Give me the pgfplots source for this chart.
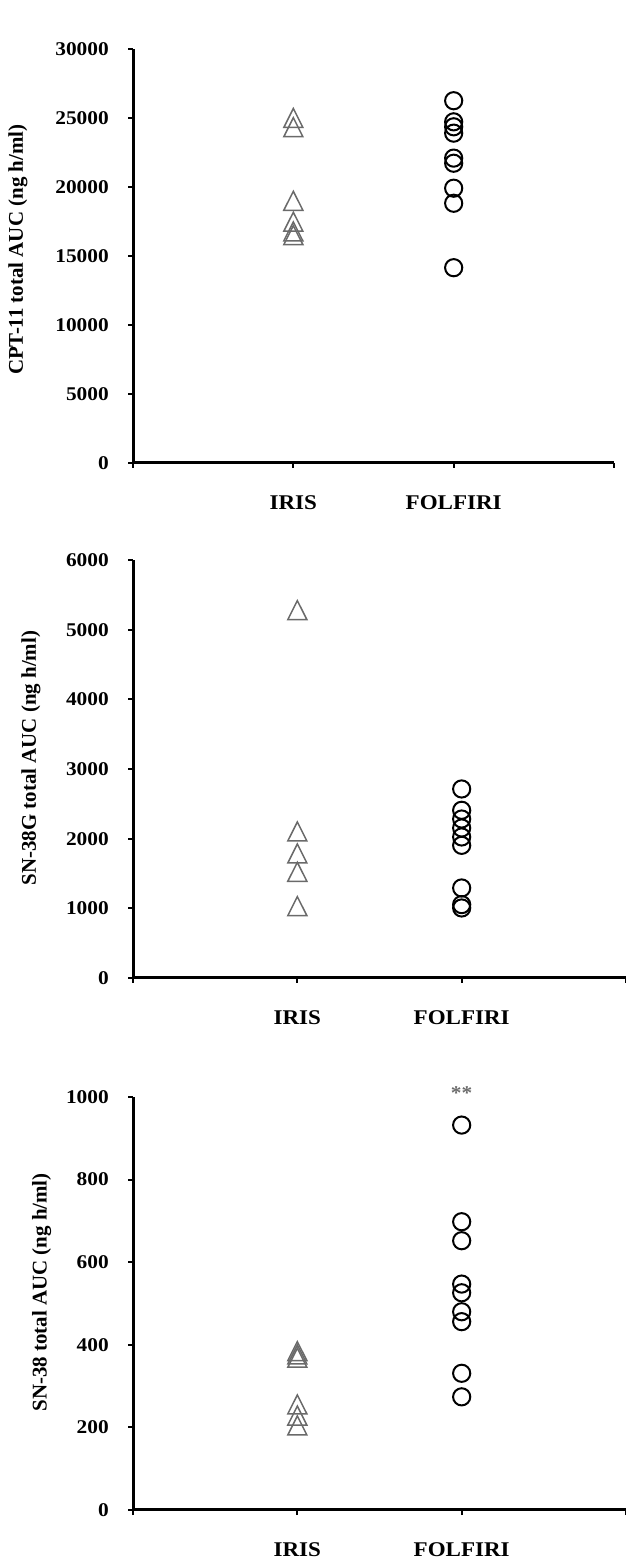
\documentclass[border=0pt]{standalone}
\usepackage{pgfplots}
\pgfplotsset{compat=1.18}
\usepackage{fontspec}
\setmainfont{Liberation Serif}[FakeStretch=1.1]
\newfontfamily\labelfont{Liberation Serif}
\definecolor{trigray}{HTML}{6A6A6A}
\pgfplotsset{
  panel/.style={
    scale only axis,
    axis lines*=left,
    axis line style={line width=3bp},
    xmin=0, xmax=3, ymin=0,
    xtick={0,1,2,3}, xticklabels={,IRIS,FOLFIRI,},
    tick align=outside,
    major tick length=5bp,
    tick style={line width=2bp, black},
    scaled y ticks=false,
    /pgf/number format/assume math mode=true,
    /pgf/number format/1000 sep={},
    yticklabel style={anchor=east, inner sep=0pt, xshift=-19bp,
      font=\fontsize{19.5}{20}\selectfont\bfseries},
    xticklabel style={anchor=center, inner sep=0pt, yshift=-35bp,
      font=\fontsize{21}{21}\selectfont\bfseries},
    ylabel style={anchor=center, font=\labelfont\fontsize{21}{21}\selectfont\bfseries},
    clip=false,
  },
  tri/.style={only marks, mark=triangle, mark size=11bp,
    mark options={draw=trigray, line width=1.5bp, yscale=1.15}},
  circ/.style={only marks, mark=o, mark size=8.6bp,
    mark options={draw=black, line width=2bp}},
}
\begin{document}
\begin{tikzpicture}[x=1bp,y=1bp]
\useasboundingbox (0,0) rectangle (626,1565);
% Panel 1
\begin{axis}[panel, at={(133bp,1102bp)}, anchor=south west,
  width=481bp, height=414bp, ymax=30000, ytick={0,5000,...,30000},
  ylabel={CPT-11 total AUC (ng h/ml)},
  ylabel style={at={(axis description cs:-0.239,0.515)}}]
\addplot[tri] coordinates {(1,24770) (1,24100) (1,18770) (1,17250) (1,16550) (1,16280)};
\addplot[circ] coordinates {(2,26250) (2,24720) (2,24360) (2,23900) (2,22090) (2,21720) (2,19910) (2,18820) (2,14150)};
\end{axis}
% Panel 2
\begin{axis}[panel, at={(133bp,587bp)}, anchor=south west,
  width=493bp, height=418bp, ymax=6000, ytick={0,1000,...,6000},
  ylabel={SN-38G total AUC (ng h/ml)},
  ylabel style={at={(axis description cs:-0.207,0.526)}}]
\addplot[tri] coordinates {(1,5235) (1,2058) (1,1742) (1,1479) (1,986)};
\addplot[circ] coordinates {(2,2713) (2,2407) (2,2282) (2,2153) (2,2024) (2,1904) (2,1292) (2,1053) (2,1005)};
\end{axis}
% Panel 3
\begin{axis}[panel, at={(133bp,55bp)}, anchor=south west,
  width=493bp, height=413bp, ymax=1000, ytick={0,200,...,1000},
  ylabel={SN-38 total AUC (ng h/ml)},
  ylabel style={at={(axis description cs:-0.185,0.527)}}]
\addplot[tri] coordinates {(1,377) (1,369) (1,361) (1,248) (1,221) (1,197)};
\addplot[circ] coordinates {(2,932) (2,698) (2,652) (2,547) (2,526) (2,480) (2,456) (2,331) (2,274)};
\node[anchor=base, text=trigray, font=\fontsize{19.5}{20}\selectfont\bfseries] at (axis cs:2,993) {**};
\end{axis}
\end{tikzpicture}
\end{document}
